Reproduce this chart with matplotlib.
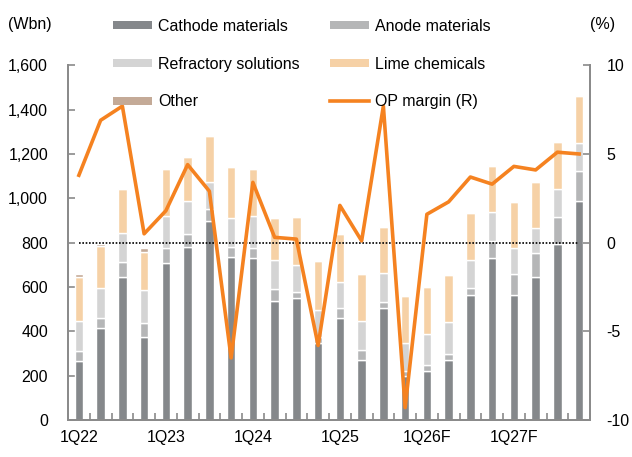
import matplotlib.pyplot as plt
import numpy as np
from matplotlib.patches import Patch
from matplotlib.lines import Line2D
from matplotlib.ticker import FuncFormatter

# ===================== 数据 =====================
quarters = ["1Q22", "2Q22", "3Q22", "4Q22", "1Q23", "2Q23", "3Q23", "4Q23",
            "1Q24", "2Q24", "3Q24", "4Q24", "1Q25", "2Q25", "3Q25", "4Q25",
            "1Q26F", "2Q26F", "3Q26F", "4Q26F", "1Q27F", "2Q27F", "3Q27F", "4Q27F"]
cathode = [267, 413, 644, 376, 707, 782, 898, 734, 729, 538, 552, 346,
           461, 271, 504, 198, 223, 271, 564, 729, 564, 647, 792, 989]
anode = [46, 46, 67, 60, 70, 55, 52, 48, 48, 51, 27, 27,
         43, 45, 27, 23, 23, 25, 30, 80, 93, 108, 125, 136]
refractory = [135, 135, 131, 150, 143, 151, 122, 130, 143, 133, 120, 123,
              120, 132, 131, 128, 140, 145, 128, 128, 117, 109, 124, 126]
lime = [198, 191, 200, 173, 211, 200, 209, 228, 213, 188, 218, 221,
        215, 211, 210, 212, 214, 213, 213, 210, 211, 211, 212, 210]
other = [12, 9, 0, 18, 0, 0, 0, 0, 0, 0, 0, 0,
         0, 0, 0, 0, 0, 0, 0, 0, 0, 0, 0, 0]
op_margin = [3.8, 6.9, 7.7, 0.5, 1.8, 4.4, 2.9, -6.5, 3.4, 0.3, 0.2, -5.8,
             2.1, 0.1, 7.7, -9.3, 1.6, 2.3, 3.7, 3.3, 4.3, 4.1, 5.1, 5.0]

series = [("Cathode materials", cathode, "#85888b"),
          ("Anode materials", anode, "#b5b6b7"),
          ("Refractory solutions", refractory, "#d4d4d4"),
          ("Lime chemicals", lime, "#f6d1a6"),
          ("Other", other, "#c4aa97")]
line_color = "#f58220"
axis_gray = "#8a8a8a"

# ===================== 绘图 =====================
plt.rcParams["font.family"] = ["Liberation Sans", "DejaVu Sans"]
plt.rcParams["font.size"] = 11.5
plt.rcParams["axes.unicode_minus"] = False

fig = plt.figure(figsize=(6.32, 4.57), dpi=100)
ax = fig.add_axes([68 / 632, 1 - 420 / 457, (590 - 68) / 632, (420 - 65.3) / 457])
ax2 = ax.twinx()

x = np.arange(len(quarters))
bottom = np.zeros(len(quarters))
for name, vals, col in series:
    ax.bar(x, vals, width=0.38, bottom=bottom, color=col, edgecolor="white",
           linewidth=1.0, zorder=2)
    bottom += np.array(vals)

ax.set_xlim(-0.5, len(quarters) - 0.5)
ax.set_ylim(0, 1600)
ax.set_yticks(range(0, 1601, 200))
ax.yaxis.set_major_formatter(FuncFormatter(lambda v, p: f"{int(v):,}"))

ax.set_xticks(x[::4])
ax.set_xticklabels(quarters[::4])
ax.set_xticks(np.arange(-0.5, len(quarters), 1), minor=True)
ax.tick_params(axis="x", which="major", length=0, pad=7)
ax.tick_params(axis="x", which="minor", length=5, direction="in", color=axis_gray, width=1.2)
ax.tick_params(axis="y", length=5, direction="in", color=axis_gray, width=1.2, pad=14.4)

ax2.set_ylim(-10, 10)
ax2.set_yticks([-10, -5, 0, 5, 10])
ax2.tick_params(axis="y", length=5, direction="in", color=axis_gray, width=1.2, pad=12)
ax2.hlines(0, 0, len(quarters) - 1, colors="black", linestyles=(0, (1, 1)), linewidth=1.2, zorder=1)
ax2.plot(x, op_margin, color=line_color, linewidth=2.6, zorder=3)

for a in (ax, ax2):
    a.spines["top"].set_visible(False)
    for s in ("left", "right", "bottom"):
        a.spines[s].set_color(axis_gray)
        a.spines[s].set_linewidth(1.3)

handles = [Patch(facecolor=c, edgecolor="none") for _, _, c in series]
labels = [n for n, _, _ in series]
# 图例按行排列
handles_rw = [handles[0], handles[2], handles[4], handles[1], handles[3],
              Line2D([], [], color=line_color, linewidth=2.6)]
labels_rw = [labels[0], labels[2], labels[4], labels[1], labels[3], "OP margin (R)"]
fig.legend(handles_rw, labels_rw, ncol=2, loc="upper left",
           bbox_to_anchor=(113 / 632, 1 - 19 / 457), frameon=False,
           borderpad=0, borderaxespad=0, handlelength=2.45, handleheight=0.4,
           handletextpad=0.38, columnspacing=1.9, labelspacing=1.42)

fig.text(8 / 632, 1 - 25 / 457, "(Wbn)", va="center", ha="left")
fig.text(590 / 632, 1 - 25 / 457, "(%)", va="center", ha="left")

fig.savefig("out.png", dpi=100)
